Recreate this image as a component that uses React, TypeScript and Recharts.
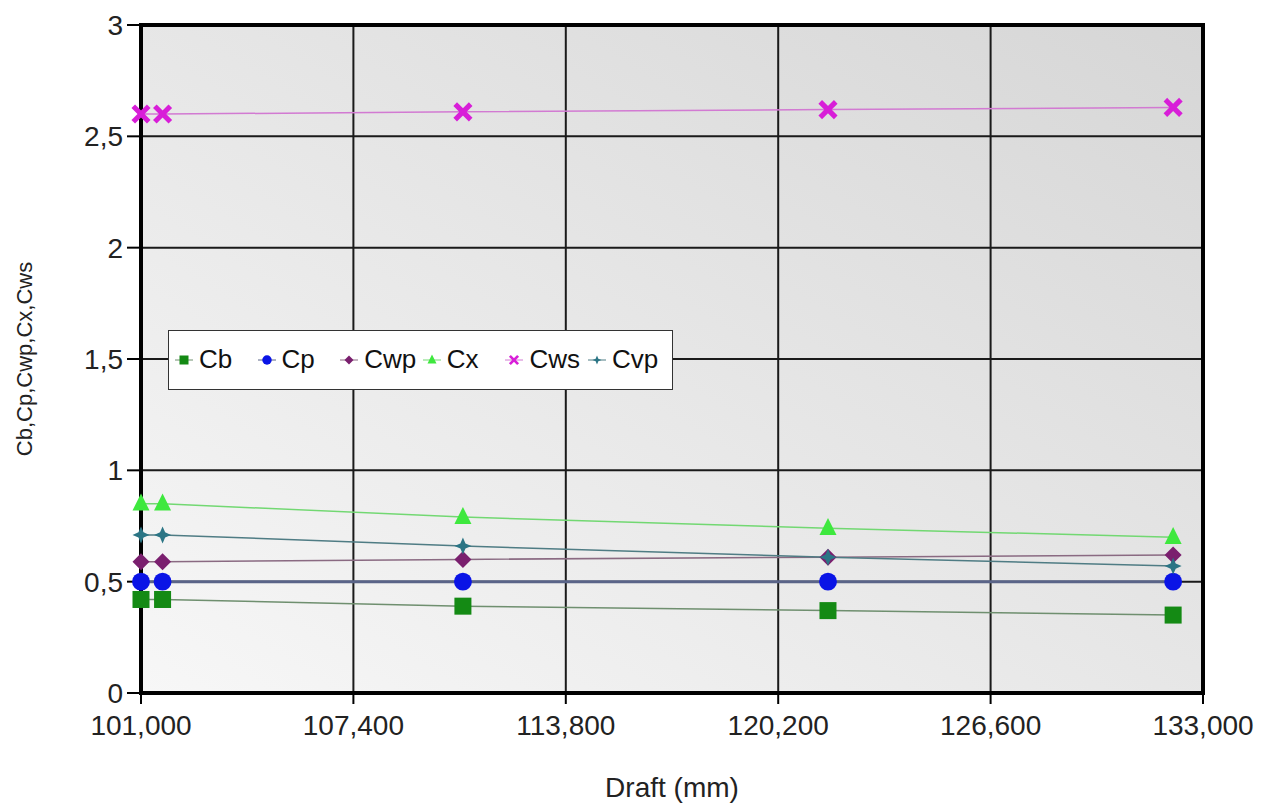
import React from 'react';
import {
  LineChart, Line, XAxis, YAxis, CartesianGrid, ReferenceArea, Label,
} from 'recharts';

const drafts = [101000, 101650, 110700, 121700, 132100];
const cb = [0.42, 0.42, 0.39, 0.37, 0.35];
const cp = [0.5, 0.5, 0.5, 0.5, 0.5];
const cwp = [0.59, 0.59, 0.6, 0.61, 0.62];
const cx = [0.85, 0.85, 0.79, 0.74, 0.7];
const cws = [2.6, 2.6, 2.61, 2.62, 2.63];
const cvp = [0.71, 0.71, 0.66, 0.61, 0.57];

const xTicks = [101000, 107400, 113800, 120200, 126600, 133000];
const yTicks = [0, 0.5, 1, 1.5, 2, 2.5, 3];

const data = drafts.map((d, i) => ({
  draft: d, Cb: cb[i], Cp: cp[i], Cwp: cwp[i], Cx: cx[i], Cws: cws[i], Cvp: cvp[i],
}));

const series = [
  { key: 'Cb', marker: '#148a14', line: '#6f8f6f', width: 1.5, shape: 'square' },
  { key: 'Cp', marker: '#0a14e6', line: '#5a6488', width: 3, shape: 'circle' },
  { key: 'Cwp', marker: '#7a1f6e', line: '#8a6a82', width: 1.5, shape: 'diamond' },
  { key: 'Cx', marker: '#3ee83e', line: '#72d872', width: 1.5, shape: 'triangle' },
  { key: 'Cws', marker: '#d81ed8', line: '#d27ad2', width: 1.5, shape: 'cross' },
  { key: 'Cvp', marker: '#2b7585', line: '#4f7c84', width: 1.5, shape: 'star' },
];

const FONT = 'Liberation Sans, Arial, sans-serif';

const Marker = ({ cx: x, cy: y, shape, color, s }: any) => {
  if (x == null || y == null) return null;
  switch (shape) {
    case 'square':
      return <rect x={x - s} y={y - s} width={2 * s} height={2 * s} fill={color} />;
    case 'circle':
      return <circle cx={x} cy={y} r={s * 1.05} fill={color} />;
    case 'diamond':
      return <path d={`M${x},${y - s}L${x + s},${y}L${x},${y + s}L${x - s},${y}Z`} fill={color} />;
    case 'triangle':
      return <path d={`M${x},${y - s * 1.2}L${x + s},${y + s * 0.8}L${x - s},${y + s * 0.8}Z`} fill={color} />;
    case 'cross': {
      const a = s * 0.7;
      return (
        <g stroke={color} strokeWidth={s * 0.6} strokeLinecap="square">
          <line x1={x - a} y1={y - a} x2={x + a} y2={y + a} />
          <line x1={x - a} y1={y + a} x2={x + a} y2={y - a} />
        </g>
      );
    }
    case 'star': {
      const i = s * 0.3;
      return (
        <path
          d={`M${x},${y - s}L${x + i},${y - i}L${x + s},${y}L${x + i},${y + i}L${x},${y + s}L${x - i},${y + i}L${x - s},${y}L${x - i},${y - i}Z`}
          fill={color}
        />
      );
    }
    default:
      return null;
  }
};

const LegendBox = () => (
  <div
    style={{
      position: 'absolute', left: 168, top: 330, width: 505, height: 60,
      background: '#fff', border: '1.5px solid #333', boxSizing: 'border-box',
      fontFamily: FONT, fontSize: 26, color: '#111',
    }}
  >
    {series.map((s, i) => (
      <div
        key={s.key}
        style={{
          position: 'absolute', left: 6 + i * 82.6, top: 0, height: 57,
          display: 'flex', alignItems: 'center',
        }}
      >
        <svg width={18} height={18}>
          <line x1={0} y1={9} x2={18} y2={9} stroke={s.line} strokeWidth={1} />
          <Marker cx={9} cy={9} shape={s.shape} color={s.marker} s={4.5} />
        </svg>
        <span style={{ marginLeft: 6 }}>{s.key}</span>
      </div>
    ))}
  </div>
);

const fmtX = (v: number) => v.toLocaleString('en-US');
const fmtY = (v: number) => String(v).replace('.', ',');

export default function App() {
  return (
    <div style={{ position: 'absolute', left: 0, top: 0, width: 1267, height: 805, background: '#fff' }}>
      <LineChart
        width={1267}
        height={805}
        data={data}
        margin={{ top: 25, right: 64, left: 0, bottom: 0 }}
      >
        <defs>
          <linearGradient id="plotBg" x1="0" y1="1" x2="1" y2="0">
            <stop offset="0%" stopColor="#f7f7f7" />
            <stop offset="100%" stopColor="#d6d6d6" />
          </linearGradient>
        </defs>
        <CartesianGrid
          stroke="#1a1a1a"
          strokeWidth={2}
          fill="url(#plotBg)"
          fillOpacity={1}
        />
        <XAxis
          dataKey="draft"
          type="number"
          domain={[101000, 133000]}
          ticks={xTicks}
          tickFormatter={fmtX}
          height={112}
          axisLine={{ stroke: '#000', strokeWidth: 4 }}
          tickLine={{ stroke: '#000', strokeWidth: 2 }}
          tickSize={11}
          tickMargin={11}
          tick={{ fill: '#222', fontSize: 28, fontFamily: FONT }}
        >
          <Label
            content={({ viewBox }: any) => (
              <text
                x={viewBox.x + viewBox.width / 2}
                y={viewBox.y + 104}
                textAnchor="middle"
                fontSize={28}
                fontFamily={FONT}
                fill="#222"
              >
                Draft (mm)
              </text>
            )}
          />
        </XAxis>
        <YAxis
          type="number"
          domain={[0, 3]}
          ticks={yTicks}
          tickFormatter={fmtY}
          width={141}
          axisLine={{ stroke: '#000', strokeWidth: 4 }}
          tickLine={{ stroke: '#000', strokeWidth: 2 }}
          tickSize={14}
          tickMargin={4}
          tick={{ fill: '#222', fontSize: 28, fontFamily: FONT }}
        >
          <Label
            content={({ viewBox }: any) => {
              const y = viewBox.y + viewBox.height / 2;
              return (
                <text
                  x={26}
                  y={y}
                  transform={`rotate(-90 26 ${y})`}
                  textAnchor="middle"
                  dominantBaseline="middle"
                  fontSize={22}
                  fontFamily={FONT}
                  fill="#222"
                >
                  Cb,Cp,Cwp,Cx,Cws
                </text>
              );
            }}
          />
        </YAxis>
        <ReferenceArea
          x1={101000}
          x2={133000}
          y1={0}
          y2={3}
          fill="none"
          stroke="#000"
          strokeWidth={4}
        />
        {series.map((s) => (
          <Line
            key={s.key}
            dataKey={s.key}
            type="linear"
            stroke={s.line}
            strokeWidth={s.width}
            isAnimationActive={false}
            dot={(p: any) => <Marker key={`${s.key}-${p.index}`} cx={p.cx} cy={p.cy} shape={s.shape} color={s.marker} s={8.5} />}
            activeDot={false}
          />
        ))}
      </LineChart>
      <LegendBox />
    </div>
  );
}
